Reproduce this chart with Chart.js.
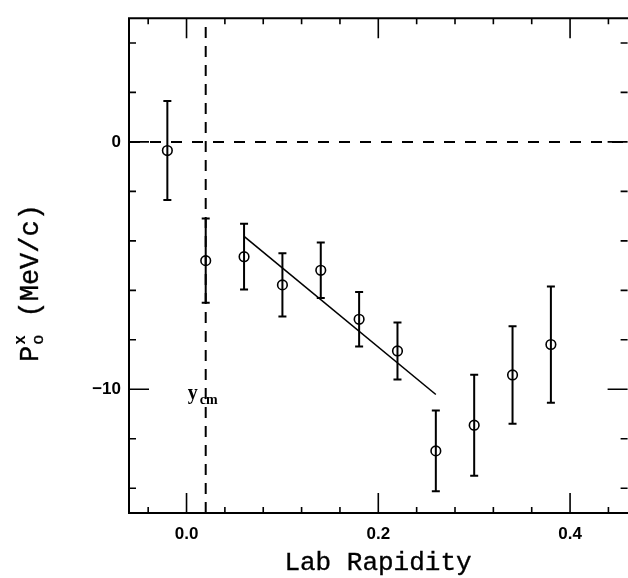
<!DOCTYPE html>
<html>
<head>
<meta charset="utf-8">
<script src="https://cdn.jsdelivr.net/npm/chart.js@4.4.0/dist/chart.umd.min.js"></script>
<style>
  html, body { margin: 0; padding: 0; background: #fff; overflow: hidden; }
  #wrap { width: 628px; height: 578px; overflow: hidden; }
</style>
</head>
<body>
<div id="wrap"><canvas id="chart" width="634" height="578"></canvas></div>
<script>
// measured points
const rapidity = [-0.02, 0.02, 0.06, 0.10, 0.14, 0.18, 0.22, 0.26, 0.30, 0.34, 0.38];
const pox = [-0.35, -4.8, -4.64, -5.78, -5.19, -7.17, -8.45, -12.49, -11.45, -9.42, -8.19];
const poxErr = [2.0, 1.7, 1.33, 1.28, 1.12, 1.1, 1.15, 1.63, 2.04, 1.97, 2.35];

// linear fit over mid-rapidity
const fitX = [0.06, 0.26];
const fitY = [-3.82, -10.21];

// center-of-mass rapidity
const yCm = 0.02;

// axes
const xRange = [-0.06, 0.46];
const yRange = [-15, 5];
const xTickLabels = [0.0, 0.2, 0.4];
const yTickLabels = [0, -10];
const xMinorTicks = [-0.04, 0, 0.04, 0.08, 0.12, 0.16, 0.2, 0.24, 0.28, 0.32, 0.36, 0.4, 0.44];
const yMinorTicks = [4, 2, 0, -2, -4, -6, -8, -10, -12, -14];

const ink = '#000';
const monoFont = '"Liberation Mono", "Courier New", monospace';

// text with a thin outline so the mono font looks a bit heavier
function heavyText(ctx, s, x, y) {
    ctx.fillText(s, x, y);
    ctx.strokeText(s, x, y);
}

const framePlugin = {
    id: 'frame',
    afterDatasetsDraw(chart) {
        const ctx = chart.ctx;
        const xs = chart.scales.x, ys = chart.scales.y;
        const a = chart.chartArea;

        // error bars
        ctx.save();
        ctx.strokeStyle = ink;
        ctx.lineWidth = 2;
        rapidity.forEach((r, i) => {
            const px = xs.getPixelForValue(r);
            const top = ys.getPixelForValue(pox[i] + poxErr[i]);
            const bot = ys.getPixelForValue(pox[i] - poxErr[i]);
            ctx.beginPath();
            ctx.moveTo(px, top); ctx.lineTo(px, bot);
            ctx.moveTo(px - 4, top); ctx.lineTo(px + 4, top);
            ctx.moveTo(px - 4, bot); ctx.lineTo(px + 4, bot);
            ctx.stroke();
        });

        // frame (right side falls outside the window)
        ctx.lineWidth = 2;
        ctx.beginPath();
        ctx.moveTo(a.right + 2, a.top); ctx.lineTo(a.left, a.top);
        ctx.lineTo(a.left, a.bottom); ctx.lineTo(a.right + 2, a.bottom);
        ctx.stroke();

        // inner ticks on all four sides
        ctx.lineWidth = 1.6;
        xMinorTicks.forEach(v => {
            const p = xs.getPixelForValue(v);
            const len = xTickLabels.some(t => Math.abs(t - v) < 1e-9) ? 20 : 6;
            ctx.beginPath();
            ctx.moveTo(p, a.bottom); ctx.lineTo(p, a.bottom - len);
            ctx.moveTo(p, a.top); ctx.lineTo(p, a.top + len);
            ctx.stroke();
        });
        yMinorTicks.forEach(v => {
            const p = ys.getPixelForValue(v);
            const len = yTickLabels.includes(v) ? 20 : 7;
            ctx.beginPath();
            ctx.moveTo(a.left, p); ctx.lineTo(a.left + len, p);
            ctx.moveTo(a.right, p); ctx.lineTo(a.right - len, p);
            ctx.stroke();
        });

        // y_cm label
        const lx = xs.getPixelForValue(yCm);
        const ly = ys.getPixelForValue(-10.25);
        ctx.fillStyle = ink;
        ctx.textBaseline = 'alphabetic';
        ctx.textAlign = 'left';
        ctx.font = 'bold 20px "Liberation Serif", serif';
        ctx.fillText('y', lx - 18, ly + 4);
        ctx.font = 'bold 14px "Liberation Serif", serif';
        ctx.fillText('cm', lx - 6, ly + 9);

        // x axis title
        ctx.lineWidth = 0.35;
        ctx.font = '26px ' + monoFont;
        ctx.textAlign = 'center';
        ctx.textBaseline = 'middle';
        heavyText(ctx, 'Lab Rapidity', 378, 563);

        // y axis title with sub/superscript
        ctx.translate(29, 283);
        ctx.rotate(-Math.PI / 2);
        ctx.textAlign = 'left';
        ctx.textBaseline = 'alphabetic';
        ctx.font = '27px ' + monoFont;
        const pW = ctx.measureText('P').width;
        const rest = ' (MeV/c)';
        const restW = ctx.measureText(rest).width;
        const sW = 12;
        const total = pW + sW + restW;
        const x0 = -total / 2;
        heavyText(ctx, 'P', x0, 9);
        ctx.font = 'bold 16px ' + monoFont;
        ctx.fillText('x', x0 + pW + 1, -4);
        ctx.font = '17px ' + monoFont;
        heavyText(ctx, 'o', x0 + pW + 1, 14);
        ctx.font = '27px ' + monoFont;
        heavyText(ctx, rest, x0 + pW + sW, 9);
        ctx.restore();
    }
};

const ctx = document.getElementById('chart').getContext('2d');
new Chart(ctx, {
    type: 'scatter',
    data: {
        datasets: [
            {
                label: 'P_o^x',
                data: rapidity.map((r, i) => ({ x: r, y: pox[i] })),
                pointStyle: 'circle',
                pointRadius: 4.8,
                pointBorderWidth: 1.6,
                pointBorderColor: ink,
                pointBackgroundColor: 'rgba(0,0,0,0)',
                showLine: false
            },
            {
                label: 'fit',
                data: fitX.map((x, i) => ({ x, y: fitY[i] })),
                showLine: true,
                borderColor: ink,
                borderWidth: 1.6,
                pointRadius: 0
            },
            {
                label: 'zero',
                data: [{ x: xRange[0], y: 0 }, { x: xRange[1], y: 0 }],
                showLine: true,
                borderColor: ink,
                borderWidth: 2,
                borderDash: [11, 10],
                pointRadius: 0
            },
            {
                label: 'ycm',
                data: [{ x: yCm, y: yRange[0] }, { x: yCm, y: yRange[1] }],
                showLine: true,
                borderColor: ink,
                borderWidth: 2,
                borderDash: [11, 8],
                pointRadius: 0
            }
        ]
    },
    options: {
        responsive: false,
        animation: false,
        layout: { padding: { top: 12, right: 3.5, left: 0, bottom: 0 } },
        plugins: {
            legend: { display: false },
            tooltip: { enabled: false }
        },
        scales: {
            x: {
                type: 'linear',
                min: xRange[0],
                max: xRange[1],
                grid: { display: false, drawTicks: false },
                border: { display: false },
                afterFit: s => { s.height = 65; },
                afterBuildTicks: s => { s.ticks = xTickLabels.map(v => ({ value: v })); },
                ticks: {
                    padding: 11,
                    color: ink,
                    font: { family: '"Liberation Sans", Arial, sans-serif', size: 17, weight: 'bold' },
                    callback: v => v.toFixed(1)
                }
            },
            y: {
                type: 'linear',
                min: yRange[0],
                max: yRange[1],
                grid: { display: false, drawTicks: false },
                border: { display: false },
                afterFit: s => { s.width = 129; },
                afterBuildTicks: s => { s.ticks = yTickLabels.map(v => ({ value: v })); },
                ticks: {
                    padding: 8,
                    color: ink,
                    font: { family: '"Liberation Sans", Arial, sans-serif', size: 17, weight: 'bold' },
                    callback: v => (v < 0 ? '\u2212' + Math.abs(v) : String(v))
                }
            }
        }
    },
    plugins: [framePlugin]
});
</script>
</body>
</html>
